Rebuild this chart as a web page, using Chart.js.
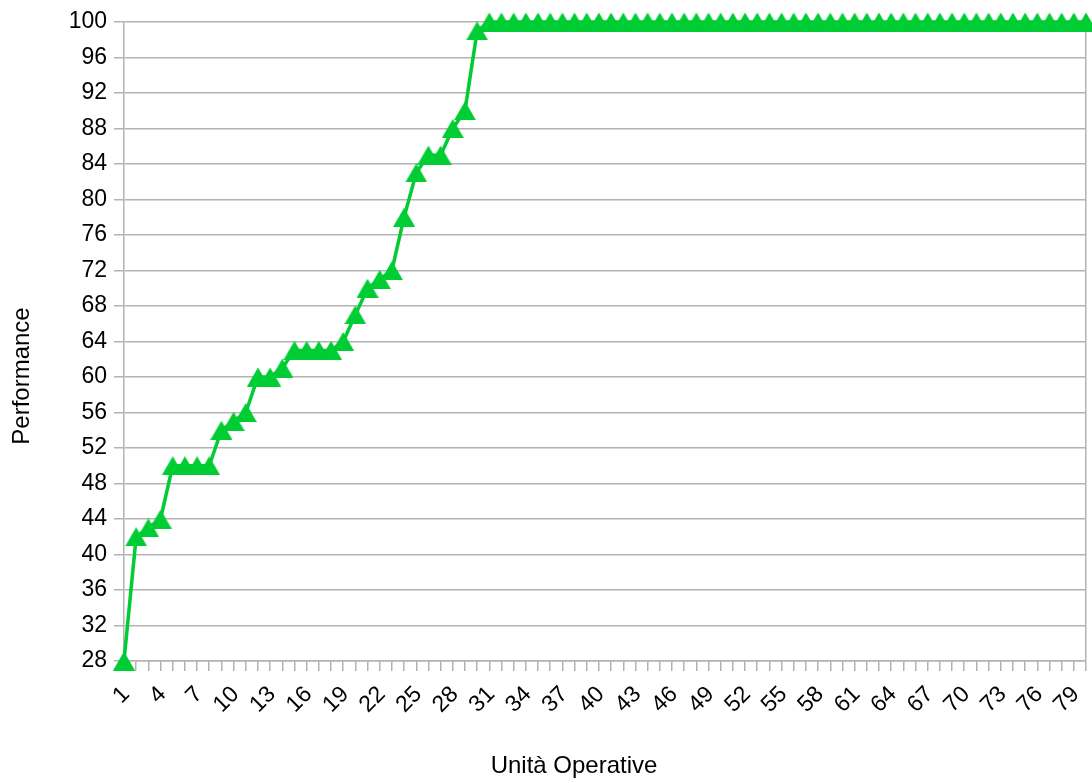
<!DOCTYPE html>
<html>
<head>
<meta charset="utf-8">
<script src="https://cdn.jsdelivr.net/npm/chart.js@4/dist/chart.umd.min.js"></script>
<style>
  html, body { margin: 0; padding: 0; background: #fff; overflow: hidden; }
  canvas { display: block; }
</style>
</head>
<body>
<canvas id="c" width="1092" height="783" style="width:1092px;height:783px"></canvas>
<script>
const categories = ['1','2','3','4','5','6','7','8','9','10','11','12','13','14','15','16','17','18','19','20',
  '21','22','23','24','25','26','27','28','29','30','31','32','33','34','35','36','37','38','39','40',
  '41','42','43','44','45','46','47','48','49','50','51','52','53','54','55','56','57','58','59','60',
  '61','62','63','64','65','66','67','68','69','70','71','72','73','74','75','76','77','78','79','80'];
const performance = [28, 42, 43, 44, 50, 50, 50, 50, 54, 55, 56, 60, 60, 61, 63, 63, 63, 63, 64, 67,
  70, 71, 72, 78, 83, 85, 85, 88, 90, 99, 100, 100, 100, 100, 100, 100, 100, 100, 100, 100,
  100, 100, 100, 100, 100, 100, 100, 100, 100, 100, 100, 100, 100, 100, 100, 100, 100, 100, 100, 100,
  100, 100, 100, 100, 100, 100, 100, 100, 100, 100, 100, 100, 100, 100, 100, 100, 100, 100, 100, 100];
const yMin = 28, yMax = 100, yGridStep = 2, yLabelStep = 4, xLabelStep = 3;
const xTitle = 'Unità Operative';
const yTitle = 'Performance';

const GREEN = '#00cc33';
const GRID = '#b3b3b3';
const FONT = '"Liberation Sans", Arial, sans-serif';

// triangle marker centered on its bounding box
function makeTriangle(w, h, color) {
  const cv = document.createElement('canvas');
  cv.width = w; cv.height = h;
  const g = cv.getContext('2d');
  g.fillStyle = color;
  g.beginPath();
  g.moveTo(w / 2, 0);
  g.lineTo(w, h);
  g.lineTo(0, h);
  g.closePath();
  g.fill();
  return cv;
}
const tri = makeTriangle(22, 19, GREEN);

// axis titles placed like the original
const axisTitles = {
  id: 'axisTitles',
  afterDraw(chart) {
    const ctx = chart.ctx;
    ctx.save();
    ctx.fillStyle = '#000';
    ctx.font = '24px ' + FONT;
    ctx.textAlign = 'center';
    ctx.textBaseline = 'middle';
    ctx.fillText(xTitle, 574, 766);
    ctx.translate(22, 376);
    ctx.rotate(-Math.PI / 2);
    ctx.fillText(yTitle, 0, 0);
    ctx.restore();
  }
};

new Chart(document.getElementById('c'), {
  type: 'line',
  data: {
    labels: categories,
    datasets: [{
      data: performance,
      borderColor: GREEN,
      backgroundColor: GREEN,
      borderWidth: 3.5,
      tension: 0,
      pointStyle: tri,
      pointRadius: 11,
      clip: false
    }]
  },
  plugins: [axisTitles],
  options: {
    responsive: false,
    animation: false,
    devicePixelRatio: 1,
    layout: { autoPadding: false, padding: { top: 22, right: 6, left: 0, bottom: 0 } },
    plugins: { legend: { display: false }, tooltip: { enabled: false } },
    scales: {
      x: {
        type: 'category',
        offset: false,
        grid: {
          display: true,
          drawOnChartArea: true,
          color: (ctx) => (ctx.index === categories.length - 1 ? GRID : 'rgba(0,0,0,0)'),
          lineWidth: 1.5,
          drawTicks: true,
          tickLength: 10,
          tickColor: GRID,
          tickWidth: 1.5
        },
        border: { display: true, color: GRID, width: 1.5 },
        ticks: {
          autoSkip: false,
          maxRotation: 45,
          minRotation: 45,
          padding: 10,
          labelOffset: 2,
          color: '#000',
          font: { family: FONT, size: 23 },
          callback: function (val, idx) { return idx % xLabelStep === 0 ? categories[idx] : ''; }
        },
        title: { display: false },
        afterFit: (s) => { s.height = 122; s.paddingRight = 0; s.paddingLeft = 0; }
      },
      y: {
        min: yMin,
        max: yMax,
        grid: {
          color: GRID,
          lineWidth: 1.5,
          drawTicks: true,
          tickLength: 10,
          tickColor: (ctx) => (ctx.tick && ctx.tick.value % yLabelStep === 0 ? GRID : 'rgba(0,0,0,0)'),
          tickWidth: 1.5
        },
        border: { display: true, color: GRID, width: 1.5 },
        ticks: {
          stepSize: yGridStep,
          padding: 7,
          color: '#000',
          font: { family: FONT, size: 23 },
          callback: (v) => (v % yLabelStep === 0 ? String(v) : '')
        },
        title: { display: false },
        afterFit: (s) => { s.width = 124; }
      }
    }
  }
});
</script>
</body>
</html>
